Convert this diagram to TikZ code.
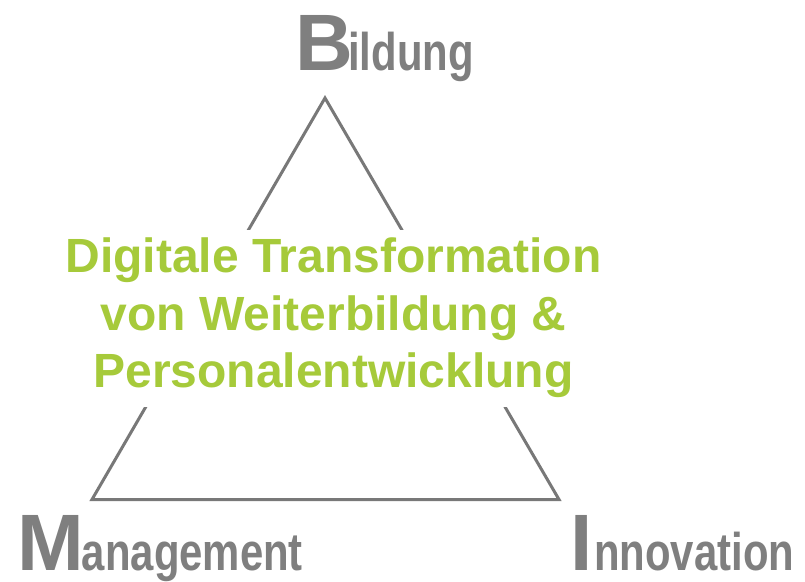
\documentclass[tikz,border=0pt]{standalone}
\usepackage{fontspec}
\usepackage{graphicx}
\setmainfont{Liberation Sans}
\definecolor{labelgray}{RGB}{127,127,127}
\definecolor{linegray}{RGB}{120,120,120}
\definecolor{leafgreen}{RGB}{166,202,58}
\newcommand{\biginitial}[1]{{\fontsize{80}{80}\selectfont\bfseries #1}}
\newcommand{\smallrest}[1]{\scalebox{0.79}[1]{\fontsize{53}{53}\selectfont\bfseries #1}}
\begin{document}
\begin{tikzpicture}[x=1pt,y=-1pt,
  lbl/.style={anchor=base west,inner sep=0pt,text=labelgray},
  edge/.style={draw=linegray,line width=3pt,line join=miter},
  title/.style={fill=white,text=leafgreen,align=center,inner sep=0pt,
    minimum width=540pt,minimum height=177pt,
    font=\fontsize{48}{57.5}\selectfont\bfseries}]
\useasboundingbox[fill=white] (0,0) rectangle (805,581);
\coordinate (apex) at (325,98);
\coordinate (left) at (92,499.5);
\coordinate (right) at (559,499.5);
\draw[edge] (apex) -- (left) -- (right) -- cycle;
\node[title] (center) at (333.5,318) {Digitale Transformation\\von Weiterbildung \&\\Personalentwicklung};
\node[lbl] (bB) at (294.8,70) {\biginitial{B}};
\node[lbl] (bRest) at (348,70) {\smallrest{ildung}};
\node[lbl] (mM) at (16.9,570) {\biginitial{M}};
\node[lbl] (mRest) at (81.7,570) {\smallrest{anagement}};
\node[lbl] (iI) at (570.5,570) {\biginitial{I}};
\node[lbl] (iRest) at (594,570) {\smallrest{nnovation}};
\end{tikzpicture}
\end{document}
